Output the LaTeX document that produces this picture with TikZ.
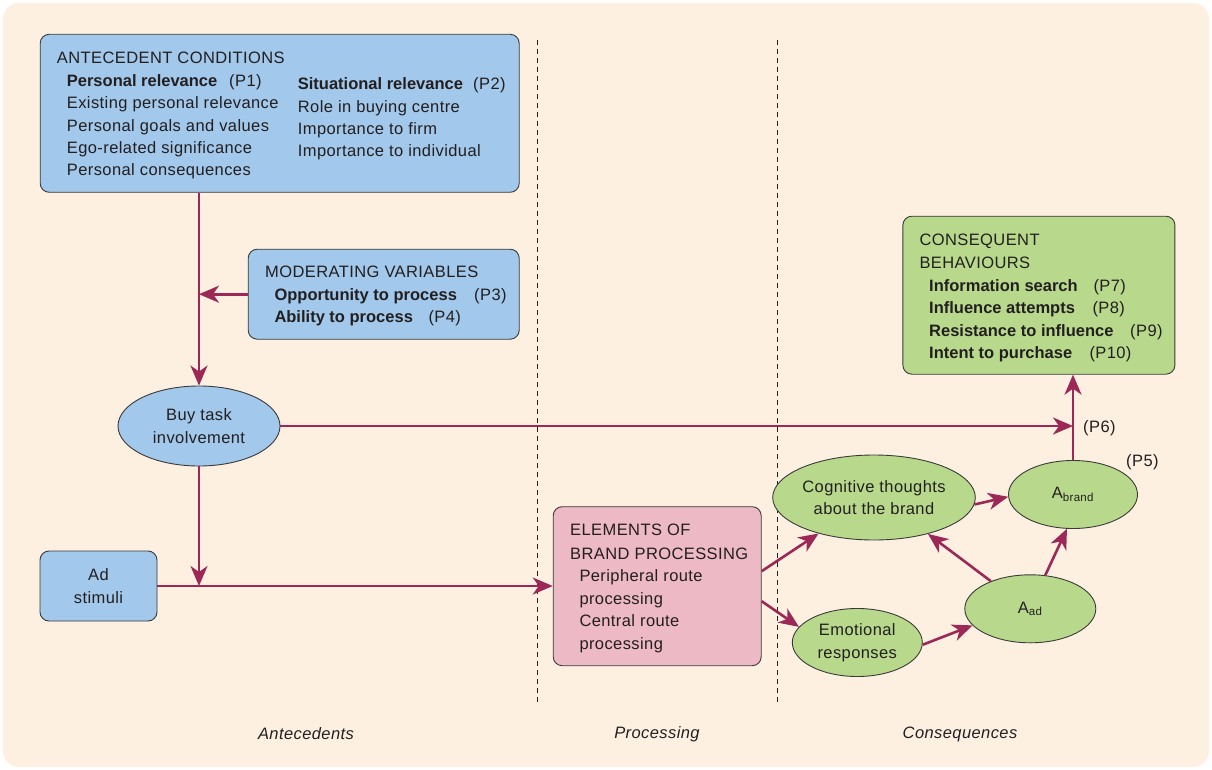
\documentclass[tikz,border=0pt]{standalone}
\usepackage{fontspec}
\setmainfont{Liberation Sans}[LetterSpace=2.5]
\newfontface\strongface{Liberation Sans Bold}
\newcommand{\heavy}[1]{{\strongface #1}}
\usetikzlibrary{arrows.meta,shapes.geometric}

\definecolor{paper}{HTML}{FDF0E1}
\definecolor{boxblue}{HTML}{A2C8EB}
\definecolor{boxpink}{HTML}{ECB9C5}
\definecolor{boxgreen}{HTML}{B8D98C}
\definecolor{link}{HTML}{9B2857}
\definecolor{ink}{HTML}{231F20}
\definecolor{rim}{HTML}{3A3A3A}

\newcommand{\bodyfont}{\fontsize{16.5}{22.5}\selectfont}

\tikzset{
  panel/.style={draw=rim, line width=0.9pt, rounded corners=9pt, inner sep=0pt, text=ink, font=\bodyfont},
  bubble/.style={ellipse, draw=rim, line width=0.9pt, fill=boxgreen, inner sep=0pt, align=center, text=ink, font=\bodyfont},
  line/.style={anchor=base west, inner sep=0pt, text=ink, font=\bodyfont},
  phase/.style={inner sep=0pt, text=ink, font=\bodyfont\itshape},
  conn/.style={draw=link, line width=2.6pt, -{Stealth[length=20pt,width=17pt,inset=6pt]}},
  divider/.style={draw=ink, line width=0.9pt, dash pattern=on 5pt off 4pt}
}

\begin{document}
\begin{tikzpicture}[x=1pt,y=-1pt]
\useasboundingbox (0,0) rectangle (1212,770);
\fill[paper, rounded corners=16pt] (3,3) rectangle (1209,767);

% phase dividers
\draw[divider] (537,40) -- (537,705);
\draw[divider] (777,40) -- (777,705);

% boxes
\node[panel, fill=boxblue, minimum width=479pt, minimum height=158pt] (ante) at (279.7,113.3) {};
\node[panel, fill=boxblue, minimum width=271pt, minimum height=90pt] (mod) at (383.7,294.2) {};
\node[panel, fill=boxblue, minimum width=117pt, minimum height=70pt, align=center] (adst) at (98.5,586) {Ad\\stimuli};
\node[panel, fill=boxpink, minimum width=208pt, minimum height=159pt] (elem) at (657.2,586.2) {};
\node[panel, fill=boxgreen, minimum width=272pt, minimum height=158pt] (cons) at (1038.9,295.2) {};

% ellipses
\node[bubble, fill=boxblue, minimum width=162pt, minimum height=80pt] (buy) at (199,426) {Buy task\\involvement};
\node[bubble, minimum width=163pt, minimum height=85pt] (cog) at (874,497.5) {Cognitive thoughts\\about the brand};
\node[bubble, minimum width=129pt, minimum height=68pt] (abr) at (1073,494.5) {A\textsubscript{brand}};
\node[bubble, minimum width=131pt, minimum height=68pt] (aad) at (1030.3,608.8) {A\textsubscript{ad}};
\node[bubble, minimum width=130pt, minimum height=68pt] (emo) at (857.3,642.5) {Emotional\\responses};

% antecedent conditions
\node[line] (a0) at (56.7,63.3) {ANTECEDENT CONDITIONS};
\node[line] (a1) at (66.7,86.7) {\heavy{Personal relevance}};
\node[line] (a1p) at (229,86.7) {(P1)};
\node[line] (a2) at (66.7,109) {Existing personal relevance};
\node[line] (a3) at (66.7,131.3) {Personal goals and values};
\node[line] (a4) at (66.7,153.6) {Ego-related significance};
\node[line] (a5) at (66.7,176) {Personal consequences};
\node[line] (b1) at (297.7,90) {\heavy{Situational relevance}};
\node[line] (b1p) at (473,90) {(P2)};
\node[line] (b2) at (297.7,112.3) {Role in buying centre};
\node[line] (b3) at (297.7,134.7) {Importance to firm};
\node[line] (b4) at (297.7,157) {Importance to individual};

% moderating variables
\node[line] (m0) at (265,277.7) {MODERATING VARIABLES};
\node[line] (m1) at (274.3,300.7) {\heavy{Opportunity to process}};
\node[line] (m1p) at (474,300.7) {(P3)};
\node[line] (m2) at (274.3,322.7) {\heavy{Ability to process}};
\node[line] (m2p) at (428.3,322.7) {(P4)};

% consequent behaviours
\node[line] (c0) at (919.3,245) {CONSEQUENT};
\node[line] (c00) at (919.3,268.3) {BEHAVIOURS};
\node[line] (c1) at (929,291) {\heavy{Information search}};
\node[line] (c1p) at (1093.3,291) {(P7)};
\node[line] (c2) at (929,313.3) {\heavy{Influence attempts}};
\node[line] (c2p) at (1092.3,313.3) {(P8)};
\node[line] (c3) at (929,336) {\heavy{Resistance to influence}};
\node[line] (c3p) at (1130,336) {(P9)};
\node[line] (c4) at (929,358.3) {\heavy{Intent to purchase}};
\node[line] (c4p) at (1089.3,358.3) {(P10)};

% elements of brand processing
\node[line] (e0) at (570,535.7) {ELEMENTS OF};
\node[line] (e1) at (570,559) {BRAND PROCESSING};
\node[line] (e2) at (579.3,581.7) {Peripheral route};
\node[line] (e3) at (579.3,604) {processing};
\node[line] (e4) at (579.3,626.7) {Central route};
\node[line] (e5) at (579.3,649) {processing};

% path labels
\node[line] (p6) at (1083,432) {(P6)};
\node[line] (p5) at (1126,466) {(P5)};

% phase captions
\node[phase] (ph1) at (306,734) {Antecedents};
\node[phase] (ph2) at (657,734) {Processing};
\node[phase] (ph3) at (960,734) {Consequences};

% connectors
\draw[conn] (ante.south -| buy.north) -- (buy.north);
\draw[conn] (mod.west) -- (mod.west -| buy.north);
\draw[conn] (buy.south) -- (buy.south |- adst.east);
\draw[conn] (adst.east) -- (elem.west |- adst.east);
\draw[conn] (buy.east) -- (buy.east -| abr.north);
\draw[conn] (abr.north) -- (cons.south -| abr.north);
\draw[conn] ([yshift=15pt]elem.east) -- (cog.213);
\draw[conn] ([yshift=-15pt]elem.east) -- (emo.165);
\draw[conn] (cog.-4) -- (abr.182);
\draw[conn] (aad.145) -- (cog.-34);
\draw[conn] (aad.66) -- (abr.-100);
\draw[conn] (emo.-2) -- (aad.196);
\end{tikzpicture}
\end{document}
